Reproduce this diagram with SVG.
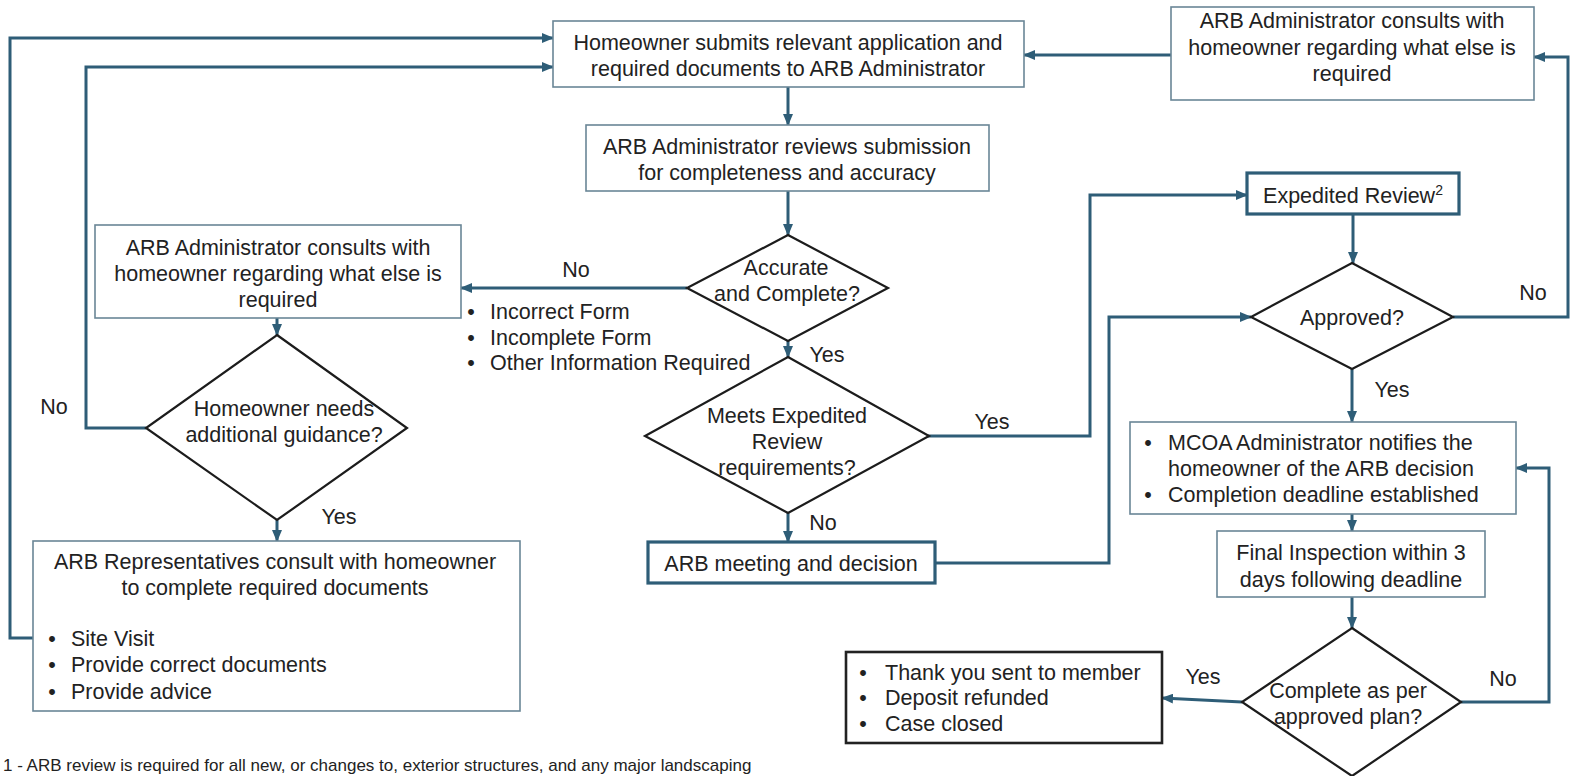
<svg xmlns="http://www.w3.org/2000/svg" width="1571" height="776" viewBox="0 0 1571 776">
<defs>
<marker id="ah" markerUnits="userSpaceOnUse" markerWidth="12" markerHeight="10" refX="11" refY="5" orient="auto">
<path d="M0,0 L12,5 L0,10 Z" fill="#2e5d77"/>
</marker>
<style>
text{font-family:"Liberation Sans",Arial,sans-serif;font-size:21.5px;fill:#222}
.c{text-anchor:middle}
.box{fill:#fff;stroke:#6a8696;stroke-width:1.6}
.thick{fill:#fff;stroke:#2e5d77;stroke-width:3.2}
.black{fill:#fff;stroke:#222;stroke-width:2.6}
.dia{fill:#fff;stroke:#1c1c1c;stroke-width:2.2}
.con{fill:none;stroke:#2e5d77;stroke-width:3}
.arr{marker-end:url(#ah)}
.fn{font-size:17px}
</style>
</defs>
<rect width="1571" height="776" fill="#fff"/>

<g id="connectors">
<path class="con arr" d="M788,87 V125"/>
<path class="con arr" d="M788,191 V235"/>
<path class="con arr" d="M687,288 H461"/>
<path class="con arr" d="M788,341 V357"/>
<path class="con arr" d="M928,436 H1090 V195 H1247"/>
<path class="con arr" d="M788,513 V542"/>
<path class="con arr" d="M935,563 H1109 V317 H1251"/>
<path class="con arr" d="M1353,214 V263"/>
<path class="con arr" d="M1453,317 H1568 V57 H1534"/>
<path class="con arr" d="M1171,55 H1024"/>
<path class="con arr" d="M1352,369 V422"/>
<path class="con arr" d="M1352,514 V531"/>
<path class="con arr" d="M1352,597 V628"/>
<path class="con arr" d="M1242,702 L1162,698"/>
<path class="con arr" d="M1461,702 H1549 V468 H1516"/>
<path class="con arr" d="M277,318 V335"/>
<path class="con arr" d="M146,428 H86 V67 H553"/>
<path class="con arr" d="M277,520 V541"/>
<path class="con arr" d="M41,638 H10 V38 H553"/>
</g>

<g id="labels">
<text x="576" y="277" class="c">No</text>
<text x="827" y="362" class="c">Yes</text>
<text x="992" y="429" class="c">Yes</text>
<text x="823" y="530" class="c">No</text>
<text x="1533" y="300" class="c">No</text>
<text x="1392" y="397" class="c">Yes</text>
<text x="1203" y="684" class="c">Yes</text>
<text x="1503" y="686" class="c">No</text>
<text x="54" y="414" class="c">No</text>
<text x="339" y="524" class="c">Yes</text>
</g>

<g id="n-submit">
<rect class="box" x="553" y="21" width="471" height="66"/>
<text x="788" y="50" class="c">Homeowner submits relevant application and</text>
<text x="788" y="76" class="c">required documents to ARB Administrator</text>
</g>

<g id="n-review">
<rect class="box" x="586" y="125" width="403" height="66"/>
<text x="787" y="154" class="c">ARB Administrator reviews submission</text>
<text x="787" y="180" class="c">for completeness and accuracy</text>
</g>

<g id="n-accurate">
<polygon class="dia" points="788,235 888,288 788,341 687,288"/>
<text x="786" y="275" class="c">Accurate</text>
<text x="787" y="301" class="c">and Complete?</text>
</g>

<g id="n-reasons">
<text x="471" y="319" class="c">•</text><text x="490" y="319">Incorrect Form</text>
<text x="471" y="345" class="c">•</text><text x="490" y="345">Incomplete Form</text>
<text x="471" y="370" class="c">•</text><text x="490" y="370">Other Information Required</text>
</g>

<g id="n-consult-left">
<rect class="box" x="95" y="225" width="366" height="93"/>
<text x="278" y="255" class="c">ARB Administrator consults with</text>
<text x="278" y="281" class="c">homeowner regarding what else is</text>
<text x="278" y="307" class="c">required</text>
</g>

<g id="n-guidance">
<polygon class="dia" points="277,335 407,428 277,520 146,428"/>
<text x="284" y="416" class="c">Homeowner needs</text>
<text x="284" y="442" class="c">additional guidance?</text>
</g>

<g id="n-reps">
<rect class="box" x="33" y="541" width="487" height="170"/>
<text x="275" y="569" class="c">ARB Representatives consult with homeowner</text>
<text x="275" y="595" class="c">to complete required documents</text>
<text x="52" y="646" class="c">•</text><text x="71" y="646">Site Visit</text>
<text x="52" y="672" class="c">•</text><text x="71" y="672">Provide correct documents</text>
<text x="52" y="699" class="c">•</text><text x="71" y="699">Provide advice</text>
</g>

<g id="n-meets">
<polygon class="dia" points="788,357 929,436 788,513 645,436"/>
<text x="787" y="423" class="c">Meets Expedited</text>
<text x="787" y="449" class="c">Review</text>
<text x="787" y="475" class="c">requirements?</text>
</g>

<g id="n-meeting">
<rect class="thick" x="648" y="542" width="287" height="41"/>
<text x="791" y="571" class="c">ARB meeting and decision</text>
</g>

<g id="n-consult-right">
<rect class="box" x="1171" y="7" width="363" height="93"/>
<text x="1352" y="28" class="c">ARB Administrator consults with</text>
<text x="1352" y="55" class="c">homeowner regarding what else is</text>
<text x="1352" y="81" class="c">required</text>
</g>

<g id="n-expedited">
<rect class="thick" x="1247" y="173" width="212" height="41"/>
<text x="1353" y="203" class="c">Expedited Review<tspan font-size="14" dy="-8">2</tspan></text>
</g>

<g id="n-approved">
<polygon class="dia" points="1352,263 1453,317 1352,369 1251,317"/>
<text x="1352" y="325" class="c">Approved?</text>
</g>

<g id="n-notify">
<rect class="box" x="1130" y="422" width="386" height="92"/>
<text x="1148" y="450" class="c">•</text><text x="1168" y="450">MCOA Administrator notifies the</text>
<text x="1168" y="476">homeowner of the ARB decision</text>
<text x="1148" y="502" class="c">•</text><text x="1168" y="502">Completion deadline established</text>
</g>

<g id="n-inspection">
<rect class="box" x="1217" y="531" width="268" height="66"/>
<text x="1351" y="560" class="c">Final Inspection within 3</text>
<text x="1351" y="587" class="c">days following deadline</text>
</g>

<g id="n-complete">
<polygon class="dia" points="1352,628 1461,702 1352,776 1242,702"/>
<text x="1348" y="698" class="c">Complete as per</text>
<text x="1348" y="724" class="c">approved plan?</text>
</g>

<g id="n-closed">
<rect class="black" x="846" y="652" width="316" height="91"/>
<text x="863" y="680" class="c">•</text><text x="885" y="680">Thank you sent to member</text>
<text x="863" y="705" class="c">•</text><text x="885" y="705">Deposit refunded</text>
<text x="863" y="731" class="c">•</text><text x="885" y="731">Case closed</text>
</g>

<g id="footnote">
<text x="3" y="771" class="fn">1 - ARB review is required for all new, or changes to, exterior structures, and any major landscaping</text>
</g>
</svg>
